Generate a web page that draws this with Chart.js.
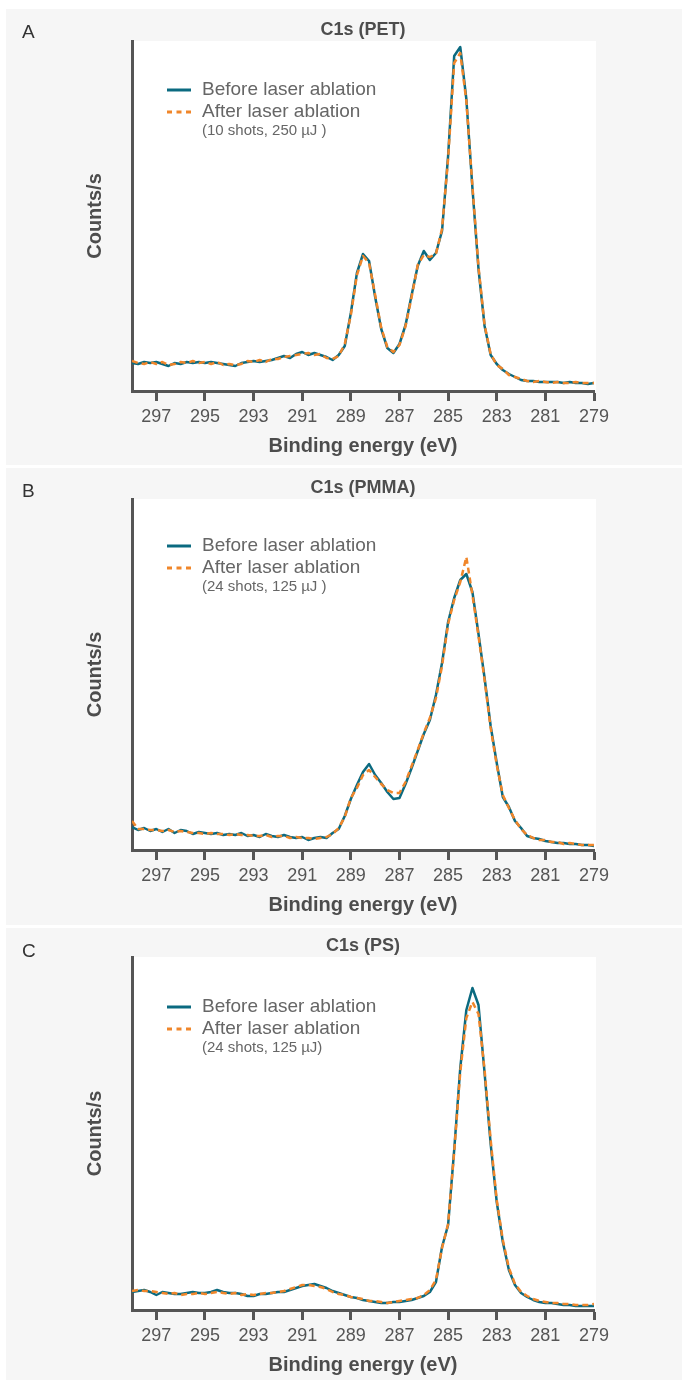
<!DOCTYPE html>
<html>
<head>
<meta charset="utf-8">
<script src="https://cdn.jsdelivr.net/npm/chart.js@4.4.1/dist/chart.umd.min.js"></script>
<style>
  body { margin: 0; background: #fff; width: 682px; height: 1380px; position: relative; overflow: hidden; }
  .panel { position: absolute; left: 6px; width: 676px; background: #f6f6f6; }
  .panel canvas { position: absolute; left: 0; top: 0; }
</style>
</head>
<body>
<div class="panel" style="top:9px;height:456px"><canvas id="pet" width="676" height="456"></canvas></div>
<div class="panel" style="top:468px;height:457px"><canvas id="pmma" width="676" height="457"></canvas></div>
<div class="panel" style="top:928px;height:452px"><canvas id="ps" width="676" height="452"></canvas></div>
<script>
// binding energy grid (eV), 0.25 eV steps
var energy = [298, 297.75, 297.5, 297.25, 297, 296.75, 296.5, 296.25,
  296, 295.75, 295.5, 295.25, 295, 294.75, 294.5, 294.25,
  294, 293.75, 293.5, 293.25, 293, 292.75, 292.5, 292.25,
  292, 291.75, 291.5, 291.25, 291, 290.75, 290.5, 290.25,
  290, 289.75, 289.5, 289.25, 289, 288.75, 288.5, 288.25,
  288, 287.75, 287.5, 287.25, 287, 286.75, 286.5, 286.25,
  286, 285.75, 285.5, 285.25, 285, 284.75, 284.5, 284.25,
  284, 283.75, 283.5, 283.25, 283, 282.75, 282.5, 282.25,
  282, 281.75, 281.5, 281.25, 281, 280.75, 280.5, 280.25,
  280, 279.75, 279.5, 279.25, 279];

var xTicks = [297, 295, 293, 291, 289, 287, 285, 283, 281, 279];

// counts (a.u.)
var petBefore = [28, 27, 29, 28, 29, 27, 25, 28,
  27, 29, 28, 29, 28, 29, 28, 27,
  26, 25, 28, 29, 30, 29, 30, 31,
  33, 35, 33, 37, 39, 36, 38, 36,
  34, 31, 36, 45, 78, 118, 137, 130,
  94, 62, 43, 38, 47, 66, 96, 125,
  140, 131, 138, 160, 235, 335, 344, 292,
  203, 122, 65, 36, 27, 21, 17, 14,
  11, 10, 10, 9, 9, 9, 9, 8,
  9, 8, 8, 7, 8];
var petAfter = [30, 28, 27, 29, 27, 29, 26, 27,
  29, 28, 30, 28, 29, 27, 29, 26,
  27, 26, 27, 30, 29, 31, 29, 32,
  32, 34, 35, 36, 37, 38, 36, 37,
  33, 32, 35, 47, 76, 116, 135, 128,
  96, 63, 44, 39, 46, 65, 94, 126,
  136, 134, 137, 162, 232, 328, 338, 290,
  205, 124, 66, 37, 26, 22, 16, 14,
  12, 10, 9, 10, 9, 8, 9, 8,
  8, 9, 8, 8, 8];

var pmmaBefore = [23, 20, 22, 19, 21, 18, 21, 17,
  20, 19, 16, 18, 17, 16, 17, 15,
  16, 15, 17, 14, 15, 13, 16, 14,
  13, 15, 13, 12, 13, 10, 12, 13,
  12, 17, 21, 34, 51, 65, 78, 86,
  75, 67, 58, 51, 52, 66, 82, 99,
  116, 130, 155, 187, 228, 252, 270, 276,
  258, 216, 172, 124, 87, 53, 43, 29,
  22, 14, 12, 11, 9, 8, 7, 7,
  6, 6, 5, 5, 4];
var pmmaAfter = [29, 21, 21, 20, 20, 19, 20, 18,
  19, 18, 17, 17, 16, 17, 16, 16,
  15, 16, 15, 15, 14, 14, 15, 13,
  14, 14, 12, 13, 12, 12, 11, 12,
  13, 16, 22, 33, 52, 62, 75, 80,
  73, 66, 60, 57, 57, 68, 84, 100,
  117, 132, 152, 184, 226, 250, 268, 293,
  255, 214, 170, 122, 85, 55, 42, 30,
  21, 15, 12, 10, 10, 8, 8, 6,
  7, 6, 5, 5, 5];

var psBefore = [18, 19, 20, 18, 15, 18, 17, 16,
  16, 17, 18, 17, 17, 18, 20, 18,
  17, 17, 16, 14, 14, 16, 16, 17,
  18, 18, 20, 22, 24, 25, 26, 24,
  22, 19, 17, 15, 13, 12, 10, 9,
  8, 7, 7, 8, 8, 9, 10, 12,
  14, 18, 28, 63, 85, 160, 242, 300,
  322, 305, 237, 166, 108, 68, 40, 25,
  17, 13, 10, 8, 7, 7, 6, 5,
  5, 4, 4, 4, 4];
var psAfter = [19, 20, 19, 19, 18, 17, 16, 17,
  15, 16, 16, 17, 16, 17, 18, 17,
  16, 17, 15, 16, 15, 16, 17, 17,
  18, 19, 21, 23, 25, 25, 24, 23,
  21, 18, 16, 15, 13, 12, 11, 9,
  9, 8, 7, 8, 9, 10, 11, 12,
  15, 20, 30, 62, 86, 158, 238, 292,
  308, 296, 240, 170, 110, 70, 42, 26,
  18, 14, 11, 9, 8, 7, 7, 6,
  6, 5, 5, 5, 6];

var teal = '#0b6a80';
var orange = '#f0862a';
var font = "'Liberation Sans', Arial, sans-serif";

// white plot background, panel letter and the legend inside the plot
var panelPlugin = {
  id: 'panel',
  beforeDraw: function(chart, args, opts) {
    var a = chart.chartArea, ctx = chart.ctx;
    ctx.save();
    ctx.fillStyle = '#fff';
    ctx.fillRect(a.left, a.top, a.right - a.left + 2, a.bottom - a.top);
    ctx.fillStyle = '#333';
    ctx.font = '19px ' + font;
    ctx.textBaseline = 'middle';
    ctx.fillText(opts.letter, 16, 24);
    ctx.restore();
  },
  afterDatasetsDraw: function(chart, args, opts) {
    var a = chart.chartArea, ctx = chart.ctx;
    var x = a.left + 35, y = a.top + opts.legendTop;
    ctx.save();
    ctx.textBaseline = 'middle';
    chart.data.datasets.forEach(function(ds, i) {
      var yy = y + i * 22;
      ctx.strokeStyle = ds.borderColor;
      ctx.lineWidth = 3;
      ctx.setLineDash(ds.borderDash ? [5, 4.5] : []);
      ctx.beginPath();
      ctx.moveTo(x, yy);
      ctx.lineTo(x + 24, yy);
      ctx.stroke();
      ctx.fillStyle = '#666';
      ctx.font = '19px ' + font;
      ctx.fillText(ds.label, x + 35, yy);
    });
    ctx.fillStyle = '#666';
    ctx.font = '15px ' + font;
    ctx.fillText(opts.sub, x + 35, y + 41);
    ctx.restore();
  }
};

function points(vals) {
  return energy.map(function(e, i) { return {x: e, y: vals[i]}; });
}

function makeChart(id, p) {
  return new Chart(id, {
    type: 'line',
    data: {
      datasets: [{
        label: 'Before laser ablation',
        data: points(p.before),
        borderColor: teal,
        borderWidth: 2.5,
        order: 1
      }, {
        // dashed "after" trace sits on top of the solid one
        label: 'After laser ablation',
        data: points(p.after),
        borderColor: orange,
        borderWidth: 2.5,
        borderDash: [6, 4],
        order: 0
      }]
    },
    options: {
      responsive: false,
      animation: false,
      devicePixelRatio: 1,
      layout: { padding: { left: 0, right: 88, top: 0, bottom: 0 } },
      elements: { point: { radius: 0 }, line: { tension: 0, borderJoinStyle: 'round' } },
      plugins: {
        legend: { display: false },
        tooltip: { enabled: false },
        title: {
          display: true, text: p.title, fullSize: false, color: '#4d4d4d',
          font: { family: font, size: 18, weight: 'bold', lineHeight: 1.2 },
          padding: { top: p.titleTop, bottom: 0 }
        },
        panel: { letter: p.letter, sub: p.sub, legendTop: p.legendTop }
      },
      scales: {
        x: {
          type: 'linear', min: 279, max: 298, reverse: true,
          afterBuildTicks: function(s) { s.ticks = xTicks.map(function(v) { return {value: v}; }); },
          afterFit: function(s) { s.height = p.xHeight; },
          grid: { drawOnChartArea: false, drawTicks: true, tickLength: 10, tickWidth: 3, tickColor: '#555' },
          border: { color: '#555', width: 3 },
          ticks: { color: '#555', padding: 5, autoSkip: false, maxRotation: 0, font: { family: font, size: 18 } },
          title: {
            display: true, text: 'Binding energy (eV)', color: '#4d4d4d',
            font: { family: font, size: 20, weight: 'bold', lineHeight: 1.2 },
            padding: { top: 0, bottom: p.xHeight - 67 }
          }
        },
        y: {
          min: 0, max: p.yMax,
          afterFit: function(s) { s.width = 126; },
          grid: { display: false },
          border: { color: '#555', width: 3 },
          ticks: { display: false },
          title: {
            display: true, text: 'Counts/s', color: '#4d4d4d',
            font: { family: font, size: 20, weight: 'bold', lineHeight: 1.2 },
            padding: { top: 77, bottom: 0 }
          }
        }
      }
    },
    plugins: [panelPlugin]
  });
}

var chartPET = makeChart('pet', {
  title: 'C1s (PET)', letter: 'A', sub: '(10 shots, 250 µJ )',
  before: petBefore, after: petAfter,
  titleTop: 10.4, xHeight: 74, yMax: 350, legendTop: 49
});

var chartPMMA = makeChart('pmma', {
  title: 'C1s (PMMA)', letter: 'B', sub: '(24 shots, 125 µJ )',
  before: pmmaBefore, after: pmmaAfter,
  titleTop: 9.4, xHeight: 75, yMax: 351, legendTop: 47
});

var chartPS = makeChart('ps', {
  title: 'C1s (PS)', letter: 'C', sub: '(24 shots, 125 µJ)',
  before: psBefore, after: psAfter,
  titleTop: 7.4, xHeight: 70, yMax: 353, legendTop: 50
});
</script>
</body>
</html>
